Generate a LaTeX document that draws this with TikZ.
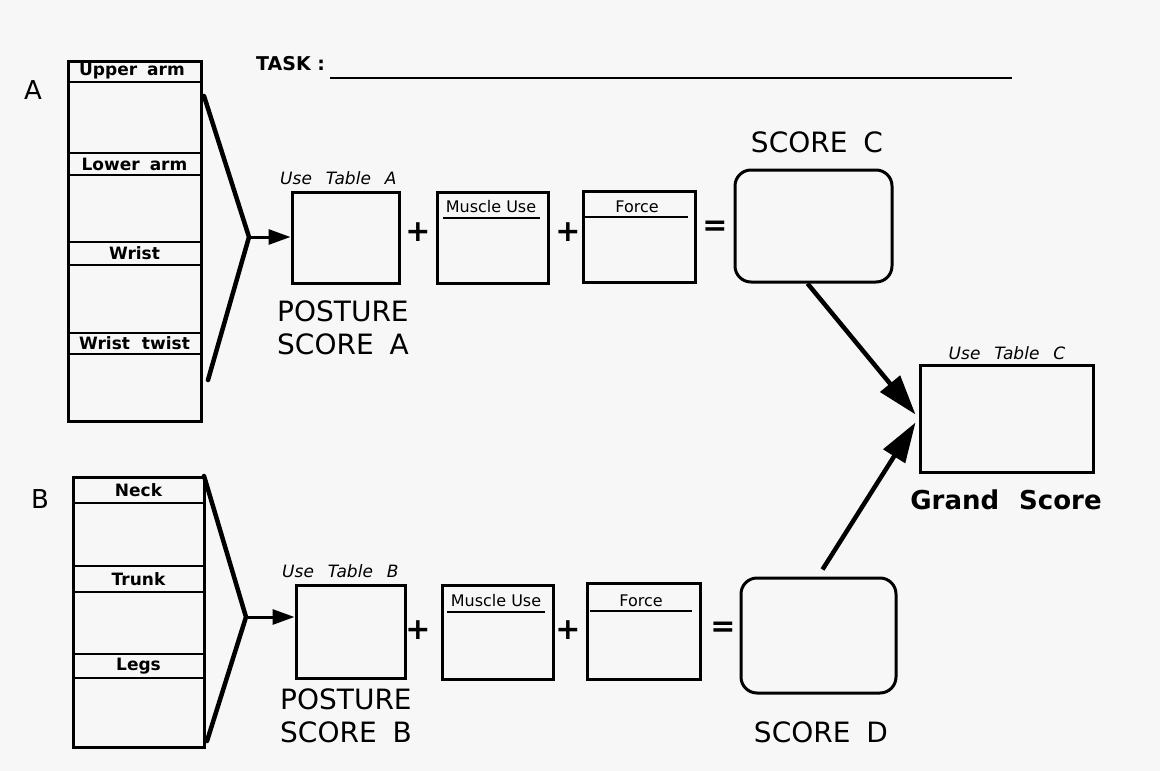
\documentclass[tikz,border=0pt]{standalone}
\usepackage{fontspec}
\setmainfont{DejaVu Sans}
\usetikzlibrary{arrows.meta,calc}
\begin{document}
\begin{tikzpicture}[x=1pt,y=-1pt,
  boxline/.style={draw=black, line width=3pt, inner sep=0pt},
  sbox/.style={boxline, rectangle},
  rbox/.style={boxline, rectangle, rounded corners=16pt},
  band/.style={line width=2.4pt},
  bandtxt/.style={font=\fontsize{17}{17}\selectfont\bfseries, inner sep=0pt},
  small/.style={font=\fontsize{16}{16}\selectfont, inner sep=0pt},
  usetxt/.style={font=\fontsize{17}{17}\selectfont\itshape, inner sep=0pt},
  bigtxt/.style={font=\fontsize{28}{33}\selectfont, inner sep=0pt, align=left},
  chev/.style={line width=4.5pt, line cap=round, line join=miter},
  inarrow/.style={line width=3pt, -{Triangle[length=22pt,width=15pt]}},
  bigarrow/.style={line width=4.5pt, -{Triangle[length=40pt,width=25pt]}}
]
\fill[black!3] (0,0) rectangle (1160,771);
\useasboundingbox (0,0) rectangle (1160,771);

% ---------- TASK ----------
\node[anchor=west, font=\fontsize{19}{19}\selectfont\bfseries, inner sep=0pt] (task) at (256,64) {TASK :};
\coordinate (tl1) at (330,78);
\coordinate (tl2) at (1012,78);
\draw[line width=2.4pt] (tl1) -- (tl2);

% ---------- Panel A ----------
\node[font=\fontsize{26}{26}\selectfont, inner sep=0pt] (labA) at (33,90) {A};
\node[sbox, minimum width=133pt, minimum height=360pt] (boxA) at (134.5,241) {};
\foreach \yy in {82,153,175,242,265,333,354}
  \draw[band] (boxA.west |- 0,\yy) -- (boxA.east |- 0,\yy);
\node[bandtxt] (ua) at (132,71.5) {Upper\hspace{10pt}arm};
\node[bandtxt] (la) at (134.5,164) {Lower\hspace{10pt}arm};
\node[bandtxt] (wr) at (134.5,253.5) {Wrist};
\node[bandtxt] (wt) at (134.5,343.5) {Wrist\hspace{12pt}twist};

\coordinate (a1) at (204,96);
\coordinate (va) at (249,237);
\coordinate (a2) at (208,380);
\draw[chev] (a1) -- (va) -- (a2);

\node[sbox, minimum width=107pt, minimum height=91pt] (postA) at (345.5,237.5) {};
\draw[inarrow] (va) -- (va -| postA.west);
\node[usetxt, anchor=south west] (utA) at (280,185) {Use\hspace{14pt}Table\hspace{14pt}A};
\node[bigtxt, anchor=north west] (psA) at (277,301) {POSTURE\\SCORE\hspace{16pt}A};

\node[font=\fontsize{30}{30}\selectfont\bfseries, inner sep=0pt] (plA1) at (418,232) {+};
\node[sbox, minimum width=111pt, minimum height=91pt] (musA) at (492.5,237.5) {};
\draw[line width=2pt] (443,218) -- (540,218);
\node[small] (musAt) at (491,207) {Muscle Use};
\node[font=\fontsize{30}{30}\selectfont\bfseries, inner sep=0pt] (plA2) at (568,232) {+};
\node[sbox, minimum width=112pt, minimum height=91pt] (forA) at (639,236.5) {};
\draw[line width=2pt] (585,217) -- (688,217);
\node[small] (forAt) at (637,207) {Force};
\node[font=\fontsize{30}{30}\selectfont\bfseries, inner sep=0pt] (eqA) at (715,228) {=};

\node[rbox, minimum width=157pt, minimum height=112pt] (scC) at (813.5,226) {};
\node[bigtxt, anchor=center] (scCt) at (817,142) {SCORE\hspace{16pt}C};

% ---------- Grand score ----------
\node[sbox, minimum width=173pt, minimum height=107pt] (grand) at (1006.5,418.5) {};
\node[usetxt, anchor=south] (utC) at (1007,360) {Use\hspace{14pt}Table\hspace{14pt}C};
\node[font=\fontsize{26}{26}\selectfont\bfseries, inner sep=0pt] (gs) at (1006,500) {Grand\hspace{20pt}Score};

% ---------- Panel B ----------
\node[font=\fontsize{26}{26}\selectfont, inner sep=0pt] (labB) at (40,499) {B};
\node[sbox, minimum width=131pt, minimum height=270pt] (boxB) at (138.5,612) {};
\foreach \yy in {503,566,592,654,678}
  \draw[band] (boxB.west |- 0,\yy) -- (boxB.east |- 0,\yy);
\node[bandtxt] (nk) at (138.5,490) {Neck};
\node[bandtxt] (tr) at (138.5,579) {Trunk};
\node[bandtxt] (lg) at (138.5,666) {Legs};

\coordinate (b1) at (204,476);
\coordinate (vb) at (246,617);
\coordinate (b2) at (207,741);
\draw[chev] (b1) -- (vb) -- (b2);

\node[sbox, minimum width=109pt, minimum height=93pt] (postB) at (350.5,631.5) {};
\draw[inarrow] (vb) -- (vb -| postB.west);
\node[usetxt, anchor=south west] (utB) at (282,578) {Use\hspace{14pt}Table\hspace{14pt}B};
\node[bigtxt, anchor=north west] (psB) at (280,689) {POSTURE\\SCORE\hspace{16pt}B};

\node[font=\fontsize{30}{30}\selectfont\bfseries, inner sep=0pt] (plB1) at (418,630) {+};
\node[sbox, minimum width=111pt, minimum height=94pt] (musB) at (497.5,632) {};
\draw[line width=2pt] (447,612) -- (545,612);
\node[small] (musBt) at (496,601) {Muscle Use};
\node[font=\fontsize{30}{30}\selectfont\bfseries, inner sep=0pt] (plB2) at (568,630) {+};
\node[sbox, minimum width=113pt, minimum height=96pt] (forB) at (643.5,631) {};
\draw[line width=2pt] (590,611) -- (692,611);
\node[small] (forBt) at (641,601) {Force};
\node[font=\fontsize{30}{30}\selectfont\bfseries, inner sep=0pt] (eqB) at (723,629) {=};

\node[rbox, minimum width=155pt, minimum height=115pt] (scD) at (818.5,635.5) {};
\node[bigtxt, anchor=center] (scDt) at (821,732) {SCORE\hspace{16pt}D};

% ---------- arrows to grand score ----------
\draw[bigarrow] ($(scC.south)+(-6,0)$) -- ($(grand.west)+(-3,-4)$);
\draw[bigarrow] ($(scD.north)+(4,-7)$) -- ($(grand.west)+(-3,4)$);
\end{tikzpicture}
\end{document}
